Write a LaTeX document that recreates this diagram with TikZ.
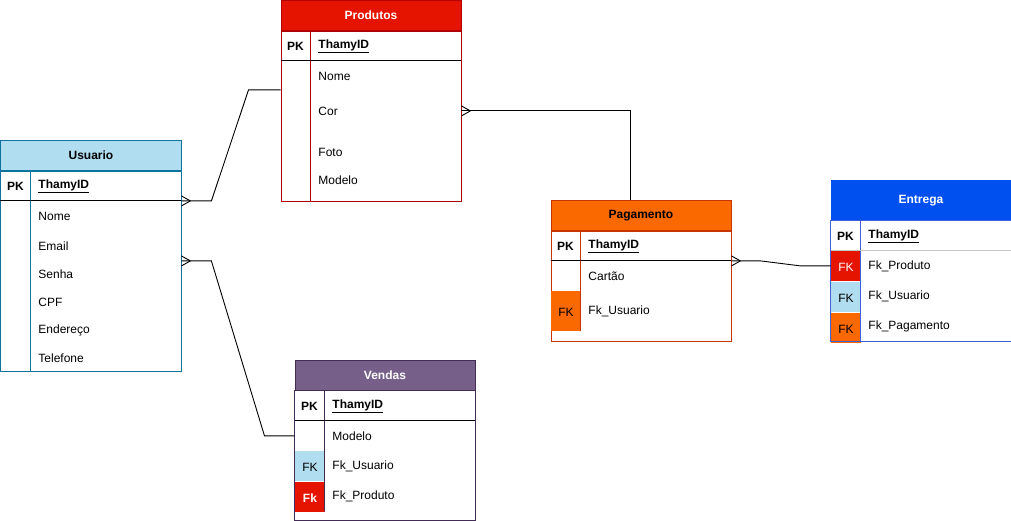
\documentclass[tikz,border=0pt]{standalone}
\usepackage{fontspec}
\setmainfont{Liberation Sans}
\usetikzlibrary{calc}

\definecolor{usuariofill}{HTML}{B1DDF0}
\definecolor{usuarioline}{HTML}{10739E}
\definecolor{produtosfill}{HTML}{E51400}
\definecolor{produtosline}{HTML}{B20000}
\definecolor{pagamentofill}{HTML}{FA6800}
\definecolor{pagamentoline}{HTML}{C73500}
\definecolor{entregafill}{HTML}{0050EF}
\definecolor{entregaline}{HTML}{3F5FD8}
\definecolor{vendasfill}{HTML}{76608A}
\definecolor{vendasline}{HTML}{432D57}

% many-side end of a relation, opening on the entity border
\newcommand{\crowfoot}[1]{\draw (#1) ++(9bp,0) -- ++(-9bp,5bp) (#1) ++(9bp,0) -- ++(-9bp,-5bp);}

\begin{document}
\begin{tikzpicture}[line width=0.9bp,font=\fontsize{12bp}{14bp}\selectfont]
 \tikzstyle{head}=[anchor=north west,minimum width=180bp,minimum height=30bp,inner sep=0,font=\fontsize{12bp}{14bp}\selectfont\bfseries]
 \tikzstyle{body}=[anchor=north west,minimum width=180bp,inner sep=0]
 \tikzstyle{key}=[inner sep=0,yshift=-1bp,font=\fontsize{12bp}{14bp}\selectfont\bfseries]
 \tikzstyle{cell}=[anchor=north west,minimum width=30bp,minimum height=30bp,inner sep=0]
 \tikzstyle{attr}=[anchor=west,inner sep=0,yshift=-1bp]
 \tikzstyle{idattr}=[anchor=west,inner sep=0,yshift=-1bp,font=\fontsize{12bp}{14bp}\selectfont\bfseries]
 \useasboundingbox (0bp,0bp) rectangle (1011bp,-521bp);

 % Usuario
 \node (usuariohead) [head,fill=usuariofill,draw=usuarioline] at (0.5bp,-140bp) {Usuario};
 \node (usuario) [body,minimum height=200bp,draw=usuarioline] at (usuariohead.south west) {};
 \draw [usuarioline] ($(usuario.north west)+(30bp,0)$) -- ($(usuario.south west)+(30bp,0)$);
 \draw ($(usuario.north west)+(0,-30bp)$) -- ($(usuario.north east)+(0,-30bp)$);
 \node (usuariopk) [key] at (15.5bp,-185bp) {PK};
 \node (usuarioid) [idattr] at (38bp,-185bp) {\underline{ThamyID}};
 \node (usuarionome) [attr] at (38bp,-215bp) {Nome};
 \node (usuarioemail) [attr] at (38bp,-245bp) {Email};
 \node (usuariosenha) [attr] at (38bp,-273bp) {Senha};
 \node (usuariocpf) [attr] at (38bp,-301bp) {CPF};
 \node (usuarioend) [attr] at (38bp,-329bp) {Endereço};
 \node (usuariotel) [attr] at (38bp,-357bp) {Telefone};

 % Produtos
 \node (produtoshead) [head,fill=produtosfill,draw=produtosline,text=white] at (280.5bp,0bp) {Produtos};
 \node (produtos) [body,minimum height=170bp,draw=produtosline] at (produtoshead.south west) {};
 \draw [produtosline] ($(produtos.north west)+(30bp,0)$) -- ($(produtos.south west)+(30bp,0)$);
 \draw ($(produtos.north west)+(0,-30bp)$) -- ($(produtos.north east)+(0,-30bp)$);
 \node (produtospk) [key] at (295.5bp,-45bp) {PK};
 \node (produtosid) [idattr] at (318bp,-45bp) {\underline{ThamyID}};
 \node (produtosnome) [attr] at (318bp,-75bp) {Nome};
 \node (produtoscor) [attr] at (318bp,-110bp) {Cor};
 \node (produtosfoto) [attr] at (318bp,-151bp) {Foto};
 \node (produtosmodelo) [attr] at (318bp,-179bp) {Modelo};

 % Pagamento
 \node (pagamentohead) [head,fill=pagamentofill,draw=pagamentoline] at (550.5bp,-200bp) {Pagamento};
 \node (pagamento) [body,minimum height=110bp,draw=pagamentoline] at (pagamentohead.south west) {};
 \node (pagamentofk) [cell,fill=pagamentofill,minimum height=40bp] at ($(pagamento.north west)+(0,-60bp)$) {};
 \draw [pagamentoline] ($(pagamento.north west)+(30bp,0)$) -- ($(pagamento.north west)+(30bp,-100bp)$);
 \draw ($(pagamento.north west)+(0,-30bp)$) -- ($(pagamento.north east)+(0,-30bp)$);
 \node (pagamentopk) [key] at (565.5bp,-245bp) {PK};
 \node (pagamentoid) [idattr] at (588bp,-245bp) {\underline{ThamyID}};
 \node (pagamentocartao) [attr] at (588bp,-275bp) {Cartão};
 \node (pagamentofklabel) [yshift=-1bp] at (pagamentofk) {FK};
 \node (pagamentousuario) [attr] at (588bp,-310bp) {Fk\_Usuario};

 % Entrega
 \node (entregahead) [head,fill=entregafill,draw=entregafill,text=white,minimum height=40bp] at (830.5bp,-180bp) {Entrega};
 \node (entrega) [body,minimum height=120bp] at (entregahead.south west) {};
 \node (entregafk1) [cell,fill=produtosfill] at ($(entrega.north west)+(0,-30bp)$) {};
 \node (entregafk2) [cell,fill=usuariofill] at (entregafk1.south west) {};
 \node (entregafk3) [cell,fill=pagamentofill] at (entregafk2.south west) {};
 \draw [entregaline] (entrega.north west) rectangle (entrega.south east);
 \draw [entregaline] ($(entrega.north west)+(30bp,0)$) -- ($(entrega.south west)+(30bp,0)$);
 \draw [gray!45] ($(entrega.north west)+(0,-30bp)$) -- ($(entrega.north east)+(0,-30bp)$);
 \node (entregapk) [key] at (845.5bp,-235bp) {PK};
 \node (entregaid) [idattr] at (868bp,-235bp) {\underline{ThamyID}};
 \node (entregafk1label) [text=white,yshift=-1bp] at (entregafk1) {FK};
 \node (entregaproduto) [attr] at (868bp,-265bp) {Fk\_Produto};
 \node (entregafk2label) [yshift=-1bp] at (entregafk2) {FK};
 \node (entregausuario) [attr] at (868bp,-295bp) {Fk\_Usuario};
 \node (entregafk3label) [yshift=-1bp] at (entregafk3) {FK};
 \node (entregapagamento) [attr] at (868bp,-325bp) {Fk\_Pagamento};

 % Vendas
 \node (vendashead) [head,fill=vendasfill,draw=vendasline,text=white] at (294.5bp,-360bp) {Vendas};
 \node (vendas) [body,minimum height=129bp] at (vendashead.south west) {};
 \node (vendasfk1) [cell,fill=usuariofill] at ($(vendas.north west)+(0,-60bp)$) {};
 \node (vendasfk2) [cell,fill=produtosfill] at (vendasfk1.south west) {};
 \draw [vendasline] (vendas.north west) rectangle (vendas.south east);
 \draw [vendasline] ($(vendas.north west)+(30bp,0)$) -- ($(vendas.north west)+(30bp,-120bp)$);
 \draw ($(vendas.north west)+(0,-30bp)$) -- ($(vendas.north east)+(0,-30bp)$);
 \node (vendaspk) [key] at (309.5bp,-405bp) {PK};
 \node (vendasid) [idattr] at (332bp,-405bp) {\underline{ThamyID}};
 \node (vendasmodelo) [attr] at (332bp,-435bp) {Modelo};
 \node (vendasfk1label) [yshift=-1bp] at (vendasfk1) {FK};
 \node (vendasusuario) [attr] at (332bp,-465bp) {Fk\_Usuario};
 \node (vendasfk2label) [text=white,yshift=-1bp,font=\fontsize{12bp}{14bp}\selectfont\bfseries] at (vendasfk2) {Fk};
 \node (vendasproduto) [attr] at (332bp,-495bp) {Fk\_Produto};

 % relations
 \coordinate (r1) at ($(usuario.north east)+(0,-30bp)$);
 \coordinate (r2) at ($(usuario.north east)+(0,-90bp)$);
 \coordinate (r3) at ($(produtos.north east)+(0,-80bp)$);
 \coordinate (r4) at ($(pagamento.north east)+(0,-30bp)$);
 \coordinate (p3) at ($(pagamentohead.north west)+(80bp,0)$);
 \draw (r1) -- ++(30bp,0) -- ($(produtos.north west)+(-32bp,-59bp)$) -- ($(produtos.north west)+(0,-59bp)$);
 \draw (r2) -- ++(30bp,0) -- ($(vendas.north west)+(-30bp,-45bp)$) -- ($(vendas.north west)+(0,-45bp)$);
 \draw (r3) -- (p3 |- r3) -- (p3);
 \draw (r4) -- ++(29bp,0) -- ($(entrega.north west)+(-30bp,-45bp)$) -- ($(entrega.north west)+(0,-45bp)$);
 \crowfoot{r1}
 \crowfoot{r2}
 \crowfoot{r3}
 \crowfoot{r4}
\end{tikzpicture}
\end{document}
